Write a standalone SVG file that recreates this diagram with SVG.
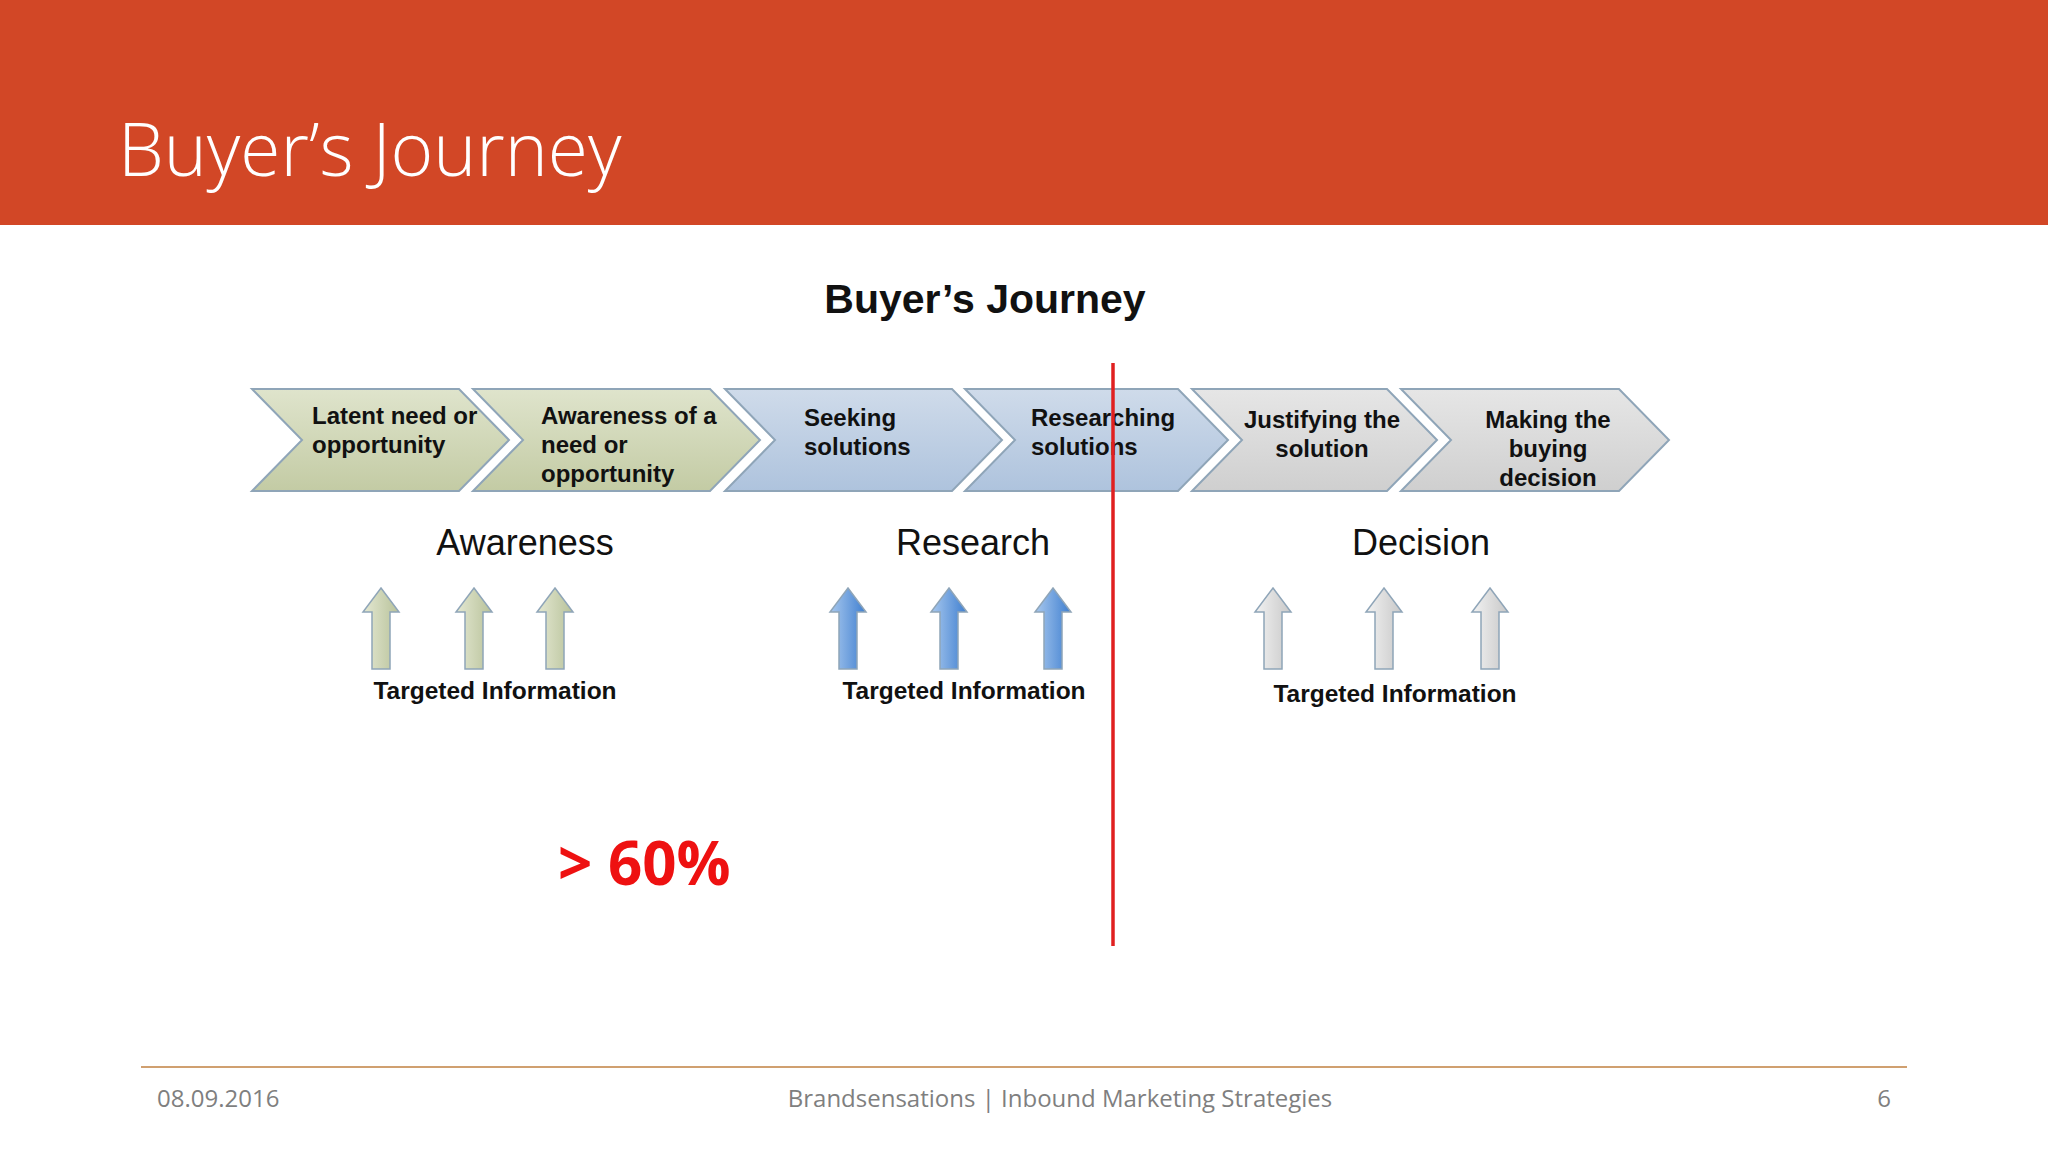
<svg xmlns="http://www.w3.org/2000/svg" width="2048" height="1152" viewBox="0 0 2048 1152">
<defs>
<style>
.ch text{font-family:"Liberation Sans",Arial,sans-serif;font-weight:bold;font-size:24px;fill:#111}
.lab{font-family:"Liberation Sans",Arial,sans-serif;font-size:36px;fill:#111;text-anchor:middle}
.ti{font-family:"Liberation Sans",Arial,sans-serif;font-weight:bold;font-size:24.5px;fill:#111;text-anchor:middle}
.ft{font-family:"Open Sans","Noto Sans",sans-serif;font-size:24px;fill:#7f7f7f}
</style>
<linearGradient id="gg" x1="0" y1="0" x2="0" y2="1"><stop offset="0" stop-color="#dfe4cc"/><stop offset="1" stop-color="#c3cba4"/></linearGradient>
<linearGradient id="bg" x1="0" y1="0" x2="0" y2="1"><stop offset="0" stop-color="#cfdbea"/><stop offset="1" stop-color="#aec3dd"/></linearGradient>
<linearGradient id="gr" x1="0" y1="0" x2="0" y2="1"><stop offset="0" stop-color="#e6e6e6"/><stop offset="1" stop-color="#cfcfcf"/></linearGradient>
<linearGradient id="ag" x1="0" x2="1"><stop offset="0" stop-color="#e4e8d2"/><stop offset="1" stop-color="#b8c29a"/></linearGradient>
<linearGradient id="ab" x1="0" x2="1"><stop offset="0" stop-color="#a8c8ee"/><stop offset="1" stop-color="#3f7fd0"/></linearGradient>
<linearGradient id="ar" x1="0" x2="1"><stop offset="0" stop-color="#f2f2f2"/><stop offset="1" stop-color="#c8c8c8"/></linearGradient>
<path id="up" d="M0,0 L18,24 L9,24 L9,81 L-9,81 L-9,24 L-18,24 Z"/>
</defs>
<rect width="2048" height="1152" fill="#fff"/>
<rect width="2048" height="225" fill="#d24726"/>
<text x="118" y="176" font-family="Open Sans,Noto Sans,sans-serif" font-weight="300" font-size="73" fill="#fff">Buyer’s Journey</text>
<text x="985" y="313" text-anchor="middle" font-family="Liberation Sans,Arial,sans-serif" font-weight="bold" font-size="41" fill="#111">Buyer’s Journey</text>
<g class="ch" stroke-width="2">
<g id="c1"><path d="M252,389 L459,389 L509,440 L459,491 L252,491 L302,440 Z" fill="url(#gg)" stroke="#8fa5b8"/><text x="312" y="424">Latent need or</text><text x="312" y="453">opportunity</text></g>
<g id="c2"><path d="M473,389 L710,389 L760,440 L710,491 L473,491 L523,440 Z" fill="url(#gg)" stroke="#8fa5b8"/><text x="541" y="424">Awareness of a</text><text x="541" y="453">need or</text><text x="541" y="482">opportunity</text></g>
<g id="c3"><path d="M725,389 L952,389 L1002,440 L952,491 L725,491 L775,440 Z" fill="url(#bg)" stroke="#8fa5b8"/><text x="804" y="426">Seeking</text><text x="804" y="455">solutions</text></g>
<g id="c4"><path d="M965,389 L1178,389 L1228,440 L1178,491 L965,491 L1015,440 Z" fill="url(#bg)" stroke="#8fa5b8"/><text x="1031" y="426">Researching</text><text x="1031" y="455">solutions</text></g>
<g id="c5"><path d="M1192,389 L1387,389 L1437,440 L1387,491 L1192,491 L1242,440 Z" fill="url(#gr)" stroke="#8fa5b8"/><text x="1322" y="428" text-anchor="middle">Justifying the</text><text x="1322" y="457" text-anchor="middle">solution</text></g>
<g id="c6"><path d="M1401,389 L1619,389 L1669,440 L1619,491 L1401,491 L1451,440 Z" fill="url(#gr)" stroke="#8fa5b8"/><text x="1548" y="428" text-anchor="middle">Making the</text><text x="1548" y="457" text-anchor="middle">buying</text><text x="1548" y="486" text-anchor="middle">decision</text></g>
</g>
<text class="lab" x="525" y="555">Awareness</text>
<text class="lab" x="973" y="555">Research</text>
<text class="lab" x="1421" y="555">Decision</text>
<g stroke="#8fa5b8" stroke-width="1.5">
<use href="#up" x="381" y="588" fill="url(#ag)"/><use href="#up" x="474" y="588" fill="url(#ag)"/><use href="#up" x="555" y="588" fill="url(#ag)"/>
<use href="#up" x="848" y="588" fill="url(#ab)"/><use href="#up" x="949" y="588" fill="url(#ab)"/><use href="#up" x="1053" y="588" fill="url(#ab)"/>
<use href="#up" x="1273" y="588" fill="url(#ar)"/><use href="#up" x="1384" y="588" fill="url(#ar)"/><use href="#up" x="1490" y="588" fill="url(#ar)"/>
</g>
<text class="ti" x="495" y="699">Targeted Information</text>
<text class="ti" x="964" y="699">Targeted Information</text>
<text class="ti" x="1395" y="702">Targeted Information</text>
<line x1="1113" y1="363" x2="1113" y2="946" stroke="#e02020" stroke-width="3.5"/>
<text x="558" y="885" font-family="Open Sans,Noto Sans,sans-serif" font-weight="bold" font-size="60" fill="#ee1111">&gt; 60%</text>
<line x1="141" y1="1067" x2="1907" y2="1067" stroke="#d0a070" stroke-width="2"/>
<text class="ft" x="157" y="1107">08.09.2016</text>
<text class="ft" x="1060" y="1107" text-anchor="middle">Brandsensations | Inbound Marketing Strategies</text>
<text class="ft" x="1891" y="1107" text-anchor="end">6</text>
</svg>
